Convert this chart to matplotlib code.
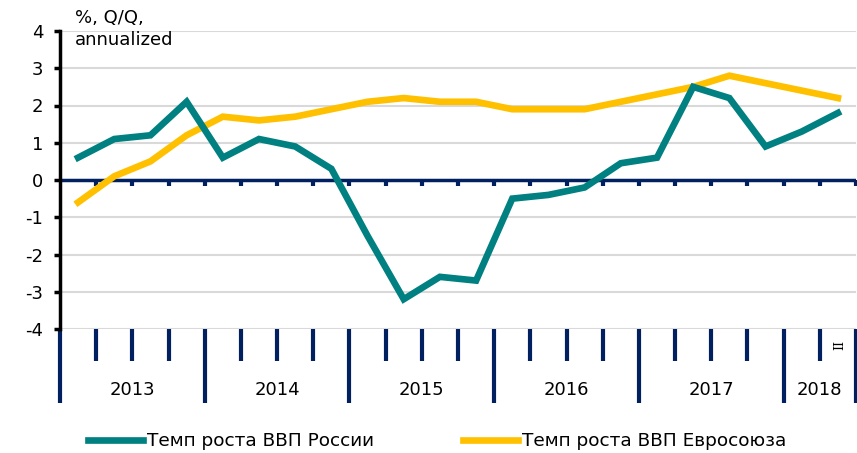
import numpy as np
import matplotlib.pyplot as plt
import matplotlib.transforms as mtransforms

years = ["2013", "2014", "2015", "2016", "2017", "2018"]
quarters_per_year = [4, 4, 4, 4, 4, 2]
russia = [0.6, 1.1, 1.2, 2.1, 0.6, 1.1, 0.9, 0.3, -1.5, -3.2, -2.6, -2.7,
          -0.5, -0.4, -0.2, 0.45, 0.6, 2.5, 2.2, 0.9, 1.3, 1.8]
eu = [-0.6, 0.1, 0.5, 1.2, 1.7, 1.6, 1.7, 1.9, 2.1, 2.2, 2.1, 2.1,
      1.9, 1.9, 1.9, 2.1, 2.3, 2.5, 2.8, 2.6, 2.4, 2.2]
last_quarter_label = "II"

TEAL = "#008080"
GOLD = "#FFC000"
NAVY = "#002060"

plt.rcParams['font.family'] = ['DejaVu Sans']
plt.rcParams['axes.unicode_minus'] = False

fig = plt.figure(figsize=(8.57, 4.53), dpi=100)
ax = fig.add_axes([60 / 857, 1 - 329 / 453, 796 / 857, 298 / 453])

n = len(russia)
x = np.arange(n)
ax.plot(x, russia, color=TEAL, lw=4.8, solid_joinstyle='miter', label="Темп роста ВВП России", zorder=4)
ax.plot(x, eu, color=GOLD, lw=4.8, solid_joinstyle='miter', label="Темп роста ВВП Евросоюза", zorder=3)

ax.set_xlim(-0.5, n - 0.5)
ax.set_ylim(-4, 4)
ax.set_yticks(range(-4, 5))
ax.yaxis.grid(True, color="#D9D9D9", lw=1.5)
ax.set_axisbelow(True)

for s in ["top", "right", "bottom"]:
    ax.spines[s].set_visible(False)
ax.spines["left"].set_linewidth(2.5)
ax.spines["left"].set_color("black")
ax.tick_params(axis='y', direction='out', length=4, width=2.5, labelsize=13, pad=8, color='black')

# category axis under the plot
bounds = np.cumsum([0] + quarters_per_year) - 0.5
ax.set_xticks(bounds)
ax.set_xticklabels([])
ax.set_xticks(np.arange(n + 1) - 0.5, minor=True)
ax.tick_params(axis='x', which='major', direction='out', length=53, width=3, color=NAVY)
ax.tick_params(axis='x', which='minor', direction='out', length=23, width=3, color=NAVY)

trans = mtransforms.blended_transform_factory(ax.transData, ax.transAxes)
for i, yr in enumerate(years):
    cx = (bounds[i] + bounds[i + 1]) / 2
    ax.text(cx, -0.205, yr, transform=trans, ha='center', va='center', fontsize=13)
ax.text(n - 1 + 0.05, -0.055, last_quarter_label, transform=trans, ha='center', va='center',
        fontsize=9, rotation=90, family='DejaVu Serif')

# zero line with small ticks below it
ax.axhline(0, color=NAVY, lw=2.5, zorder=2)
zero_ax = ax.secondary_xaxis(0.5)
zero_ax.spines['bottom'].set_visible(False)
zero_ax.spines['top'].set_visible(False)
zero_ax.xaxis.set_ticks_position('bottom')
zero_ax.set_xticks(np.arange(1, n + 1) - 0.5)
zero_ax.set_xticklabels([])
zero_ax.tick_params(direction='out', length=4.5, width=3, color=NAVY)

fig.text(75 / 857, 1 - 9 / 453, "%, Q/Q,\nannualized", ha='left', va='top', fontsize=13,
         linespacing=1.3)

fig.legend(loc='center', bbox_to_anchor=(0.51, 1 - 441 / 453), ncol=2, frameon=False,
           fontsize=13.3, handlelength=3.0, handletextpad=0.2, columnspacing=4.8)

fig.savefig("out.png", dpi=100)
